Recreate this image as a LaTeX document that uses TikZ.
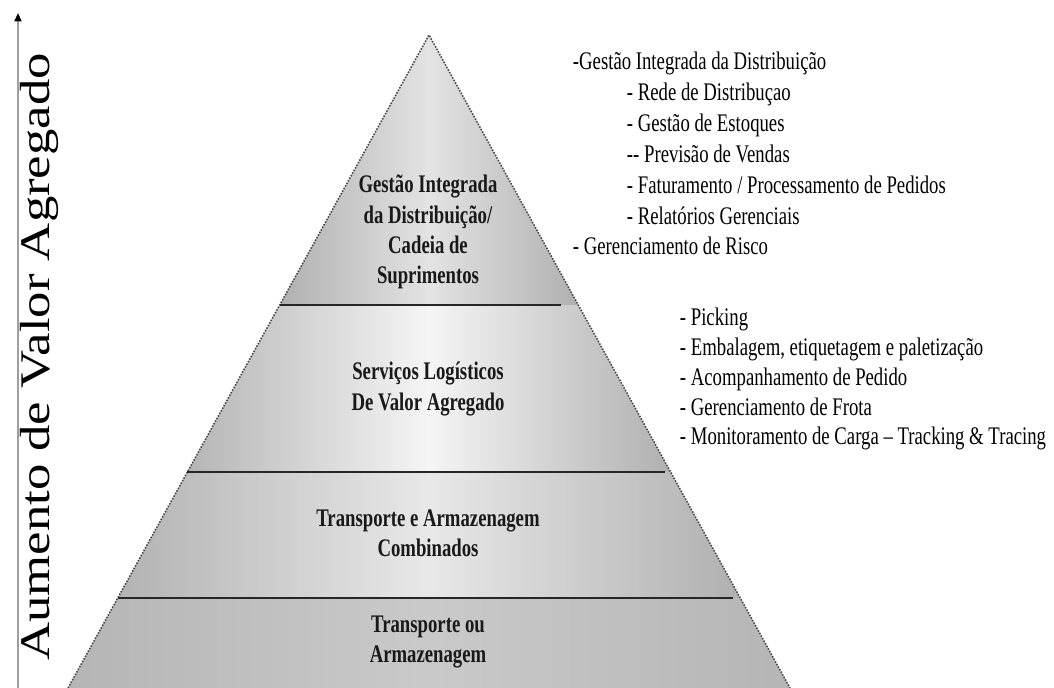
\documentclass[tikz,border=0pt]{standalone}
\usepackage{fontspec}
\setmainfont{Liberation Serif}
\newfontfamily\narrowserif[FakeStretch=0.74]{Liberation Serif}
\newfontfamily\wideserif[FakeStretch=1.25]{Liberation Serif}
\usetikzlibrary{arrows.meta, calc}

\begin{document}
\begin{tikzpicture}[
        x=0.025cm, y=-0.025cm,
        bandtext/.style={align=center, text=black!90,
            font=\narrowserif\bfseries\fontsize{18}{21.5}\selectfont},
        listtext/.style={align=left, anchor=base west,
            font=\narrowserif\fontsize{18}{#1}\selectfont},
        listtext/.default=22,
        divider/.style={line width=0.9pt, black!85},
        outline/.style={densely dotted, line width=1.1pt, gray!55!black}
    ]
    \useasboundingbox (0,0) rectangle (1054,688);

    % cantos da piramide
    \coordinate (apex) at (429,35);
    \coordinate (bl) at (68,688);
    \coordinate (br) at (790,688);
    % divisoes nos lados
    \foreach \i/\t in {1/0.4135, 2/0.6692, 3/0.8622} {
        \coordinate (l\i) at ($(apex)!\t!(bl)$);
        \coordinate (r\i) at ($(apex)!\t!(br)$);
    }

    % faixas sombreadas (middle color por ultimo)
    \shade[left color=gray!62, right color=gray!62, middle color=gray!22]
        (apex) -- (l1) -- (r1) -- cycle;
    \shade[left color=gray!58, right color=gray!62, middle color=gray!8]
        (l1) -- (l2) -- (r2) -- (r1) -- cycle;
    \shade[left color=gray!60, right color=gray!62, middle color=gray!18]
        (l2) -- (l3) -- (r3) -- (r2) -- cycle;
    \shade[left color=gray!58, right color=gray!58, middle color=gray!42]
        (l3) -- (bl) -- (br) -- (r3) -- cycle;

    \draw[outline] (bl) -- (apex) -- (br);
    \draw[divider] (l1) -- ($(r1)+(-17,0)$);
    \draw[divider] (l2) -- ($(r2)+(-6,0)$);
    \draw[divider] (l3) -- ($(r3)+(-7,0)$);

    % eixo vertical
    \coordinate (axisfoot) at (18,688);
    \coordinate (axistop) at (18,13);
    \draw[gray!75, line width=1.3pt, -{Triangle[color=black, fill=black, length=6pt, width=5pt]}]
        (axisfoot) -- (axistop);
    \node[rotate=90, font=\wideserif\fontsize{30}{32}\selectfont] (axislabel) at (39,357)
        {Aumento de Valor Agregado};

    % textos das faixas
    \node[bandtext] (gestao) at (428,232)
        {Gestão Integrada\\da Distribuição/\\Cadeia de\\Suprimentos};
    \node[bandtext] (servicos) at (428,389)
        {Serviços Logísticos\\De Valor Agregado};
    \node[bandtext] (combinados) at (428,533)
        {Transporte e Armazenagem\\Combinados};
    \node[bandtext] (basico) at (428,642)
        {Transporte ou\\Armazenagem};

    % listas (base = ultima linha)
    \node[listtext] (gestaolist) at (568,255)
        {-Gestão Integrada da Distribuição\\
         \hspace*{1.35cm}- Rede de Distribuçao\\
         \hspace*{1.35cm}- Gestão de Estoques\\
         \hspace*{1.35cm}-- Previsão de Vendas\\
         \hspace*{1.35cm}- Faturamento / Processamento de Pedidos\\
         \hspace*{1.35cm}- Relatórios Gerenciais\\
         - Gerenciamento de Risco};
    \node[listtext=21.3] (servicoslist) at (675,445)
        {- Picking\\
         - Embalagem, etiquetagem e paletização\\
         - Acompanhamento de Pedido\\
         - Gerenciamento de Frota\\
         - Monitoramento de Carga – Tracking \& Tracing};
\end{tikzpicture}
\end{document}
